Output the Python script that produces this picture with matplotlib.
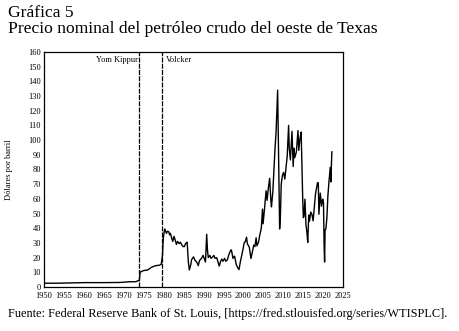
import numpy as np
import matplotlib.pyplot as plt

plt.rcParams['font.family'] = ['Liberation Serif', 'DejaVu Serif']

# fechas (año decimal) y precio WTI (dólares por barril)
anios = [1950.0, 1953.4, 1957.0, 1960.0, 1965.0, 1969.0, 1970.5, 1971.5, 1973.0, 1973.6,
         1973.9, 1974.1, 1975.0, 1975.9, 1976.5, 1977.0, 1978.0, 1979.0, 1979.4,
         1979.7, 1979.9, 1980.1, 1980.3, 1980.5, 1980.7, 1981.0, 1981.3, 1981.5, 1981.7,
         1982.0, 1982.3, 1982.6, 1982.9, 1983.2, 1983.5, 1983.9, 1984.2, 1984.6, 1984.9,
         1985.2, 1985.5, 1985.9, 1986.2, 1986.45, 1986.8, 1987.0, 1987.5, 1987.9, 1988.3,
         1988.7, 1989.0, 1989.5, 1989.9, 1990.3, 1990.5, 1990.8, 1991.0, 1991.2, 1991.6,
         1991.9, 1992.3, 1992.6, 1992.9, 1993.3, 1993.6, 1993.95, 1994.3, 1994.6, 1994.9,
         1995.3, 1995.6, 1996.0, 1996.3, 1996.8, 1997.0, 1997.4, 1997.8, 1998.2, 1998.5,
         1998.9, 1999.3, 1999.6, 1999.9, 2000.2, 2000.5, 2000.8, 2001.0, 2001.5, 2001.9,
         2002.2, 2002.6, 2002.9, 2003.2, 2003.4, 2003.8, 2004.1, 2004.5, 2004.8, 2004.95,
         2005.3, 2005.7, 2005.95, 2006.3, 2006.6, 2006.9, 2007.05, 2007.4, 2007.8, 2007.95,
         2008.2, 2008.6, 2008.75, 2009.1, 2009.3, 2009.5, 2009.8, 2010.1, 2010.4, 2010.8,
         2011.0, 2011.35, 2011.5, 2011.8, 2012.2, 2012.5, 2012.7, 2012.9, 2013.3, 2013.7,
         2013.9, 2014.2, 2014.5, 2014.9, 2015.05, 2015.2, 2015.45, 2015.7, 2015.95, 2016.15,
         2016.4, 2016.6, 2016.9, 2017.2, 2017.5, 2017.9, 2018.1, 2018.6, 2018.8, 2018.95,
         2019.3, 2019.6, 2019.9, 2020.1, 2020.25, 2020.38, 2020.5, 2020.7, 2020.95, 2021.2,
         2021.5, 2021.8, 2021.95, 2022.2]
precio = [2.57, 2.57, 2.82, 2.97, 2.97, 3.07, 3.35, 3.56, 3.56, 4.31,
          4.31, 10.1, 11.2, 11.5, 12.5, 13.5, 14.5, 14.85, 15.5,
          21.0, 32.5, 37.0, 39.5, 38.0, 36.5, 38.0, 37.5, 35.5, 36.5,
          33.5, 31.0, 34.5, 32.0, 29.0, 31.0, 29.5, 30.5, 28.5, 27.5,
          27.5, 29.5, 30.5, 17.0, 11.6, 15.0, 18.5, 20.5, 18.0, 17.0,
          14.5, 18.0, 19.5, 21.5, 18.5, 17.0, 35.9, 25.0, 20.0, 21.5,
          19.5, 20.5, 21.5, 19.5, 20.0, 17.5, 14.2, 17.5, 19.0, 17.5,
          19.5, 17.5, 18.5, 21.5, 25.0, 25.2, 19.5, 21.0, 15.5, 13.5,
          11.8, 18.0, 21.5, 25.5, 30.0, 31.0, 33.9, 29.5, 27.0, 19.4,
          23.0, 28.5, 27.5, 33.5, 28.0, 30.5, 35.0, 40.0, 53.0, 43.0,
          53.0, 65.5, 59.0, 68.0, 74.0, 59.0, 54.5, 65.0, 86.0, 94.8,
          105.0, 134.0, 104.0, 39.5, 49.0, 70.0, 76.0, 78.0, 73.5, 84.0,
          89.0, 110.0, 95.0, 86.5, 106.0, 82.0, 94.5, 88.0, 92.0, 106.5,
          93.0, 101.0, 105.5, 59.0, 47.2, 48.0, 59.8, 42.5, 37.0, 30.3,
          49.0, 44.8, 51.0, 49.5, 45.0, 57.5, 63.5, 71.0, 70.8, 49.5,
          63.9, 55.0, 59.8, 57.5, 29.0, 17.0, 39.0, 39.5, 47.0, 62.0,
          72.5, 81.5, 71.5, 92.0]

eventos = ['Yom Kippur', 'Volcker']
fechas_evento = [1973.75, 1979.7]

fig = plt.figure(figsize=(4.6, 3.31), dpi=100)
ax = fig.add_axes([0.0957, 0.133, 0.65, 0.710])

ax.plot(anios, precio, color='black', linewidth=1.0)

# líneas verticales de los eventos
for nombre, f in zip(eventos, fechas_evento):
    ax.axvline(f, color='black', linewidth=0.9, linestyle=(0, (4, 1)))
ax.text(fechas_evento[0] - 0.25, 157, eventos[0], ha='right', va='top', fontsize=6)
ax.text(fechas_evento[1] + 0.9, 157, eventos[1], ha='left', va='top', fontsize=6)

ax.set_xlim(1950, 2025)
ax.set_ylim(0, 160)
ax.set_xticks(np.arange(1950, 2026, 5))
ax.set_yticks(np.arange(0, 161, 10))
ax.tick_params(length=0, labelsize=6)
ax.tick_params(axis='x', pad=3.5)
ax.tick_params(axis='y', pad=2)
for s in ax.spines.values():
    s.set_linewidth(0.9)
ax.set_ylabel('Dólares por barril', fontsize=6, labelpad=11)

fig.text(0.017, 0.962, 'Gráfica 5', fontsize=12.6, va='center')
fig.text(0.017, 0.912, 'Precio nominal del petróleo crudo del oeste de Texas',
         fontsize=12.6, va='center')
fig.text(0.017, 0.052,
         'Fuente: Federal Reserve Bank of St. Louis, [https://fred.stlouisfed.org/series/WTISPLC].',
         fontsize=8.8, va='center')

fig.savefig('out.png', dpi=100)
